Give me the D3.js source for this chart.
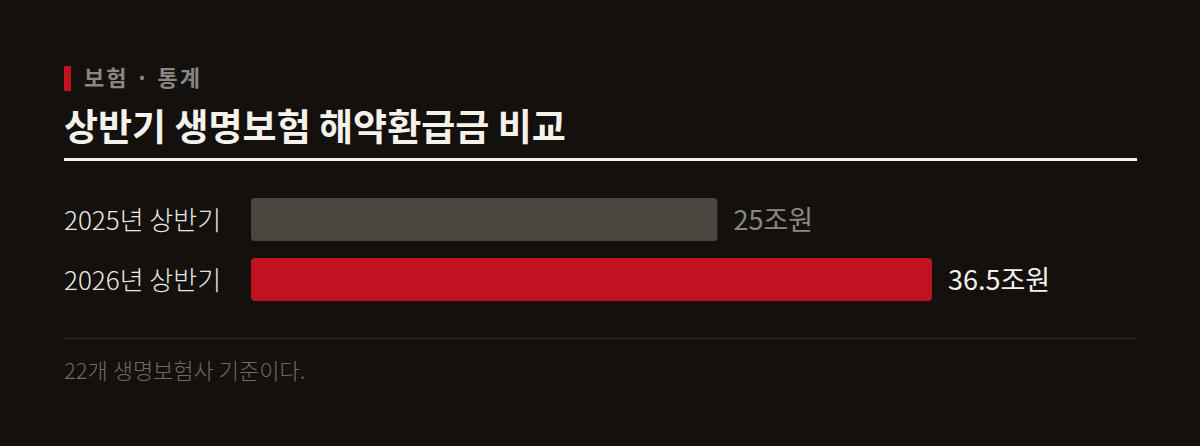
<!DOCTYPE html>
<html>
<head>
<meta charset="utf-8">
<script src="https://cdn.jsdelivr.net/npm/d3@7"></script>
<style>
  html, body { margin: 0; padding: 0; background: #13100e; }
  svg { display: block; font-family: "Noto Sans CJK KR", "Noto Sans", sans-serif; }
</style>
</head>
<body>
<div id="chart"></div>
<script>
// chart data
const kicker = "보험 · 통계";
const title = "상반기 생명보험 해약환급금 비교";
const periods = ["2025년 상반기", "2026년 상반기"];
const values = [25, 36.5];
const valueLabels = ["25조원", "36.5조원"];
const note = "22개 생명보험사 기준이다.";

const width = 1200, height = 446;
const left = 64, right = 1137;

const svg = d3.select("#chart").append("svg")
    .attr("width", width)
    .attr("height", height);

svg.append("rect").attr("width", width).attr("height", height).attr("fill", "#13100e");

// header
svg.append("rect")
    .attr("x", 64).attr("y", 66)
    .attr("width", 7).attr("height", 25)
    .attr("fill", "#c0131f");

svg.append("text")
    .attr("x", 84).attr("y", 86)
    .attr("fill", "#8b8680")
    .attr("font-size", 22)
    .attr("font-weight", 700)
    .attr("letter-spacing", 2)
    .text(kicker);

svg.append("text")
    .attr("x", left).attr("y", 141)
    .attr("fill", "#f5f2ec")
    .attr("font-size", 37)
    .attr("font-weight", 700)
    .text(title);

svg.append("rect")
    .attr("x", left).attr("y", 158)
    .attr("width", right - left).attr("height", 3)
    .attr("fill", "#f5f2ec");

// bars
const x = d3.scaleLinear().domain([0, 36.5]).range([251, 932]);
const y = d3.scaleBand().domain(periods).range([198, 301]).paddingInner(17 / 60).paddingOuter(0);
const barColors = ["#4b4540", "#c0131f"];
const valueColors = ["#8b8680", "#f5f2ec"];

const rows = svg.selectAll("g.row")
    .data(periods.map((p, i) => ({ p, v: values[i], lab: valueLabels[i], i })))
    .join("g")
    .attr("class", "row");

rows.append("text")
    .attr("x", left)
    .attr("y", d => y(d.p) + y.bandwidth() / 2 + 10)
    .attr("fill", "#ece8e1")
    .attr("font-size", 26)
    .attr("font-weight", 300)
    .text(d => d.p);

rows.append("rect")
    .attr("x", x(0))
    .attr("y", d => y(d.p))
    .attr("width", d => x(d.v) - x(0))
    .attr("height", y.bandwidth())
    .attr("rx", 4)
    .attr("fill", d => barColors[d.i]);

rows.append("text")
    .attr("x", d => x(d.v) + 16)
    .attr("y", d => y(d.p) + y.bandwidth() / 2 + 10)
    .attr("fill", d => valueColors[d.i])
    .attr("font-size", 27)
    .attr("font-weight", 400)
    .text(d => d.lab);

// footer
svg.append("line")
    .attr("x1", left).attr("x2", right)
    .attr("y1", 338.5).attr("y2", 338.5)
    .attr("stroke", "#2f2b28").attr("stroke-width", 1);

svg.append("text")
    .attr("x", left).attr("y", 379)
    .attr("fill", "#6f6a64")
    .attr("font-size", 22)
    .attr("font-weight", 300)
    .text(note);
</script>
</body>
</html>
